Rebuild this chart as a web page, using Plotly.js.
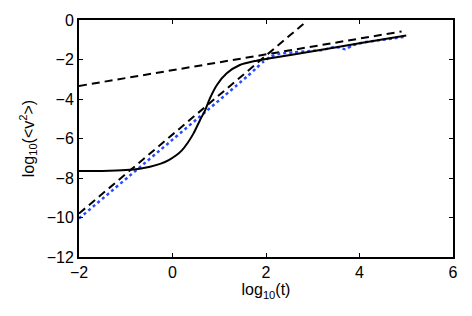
<!DOCTYPE html>
<html>
<head>
<meta charset="utf-8">
<script src="https://cdn.plot.ly/plotly-3.0.1.min.js"></script>
<style>html,body{margin:0;padding:0;background:#fff;}#chart{width:472px;height:316px;}</style>
</head>
<body>
<div id="chart"></div>
<script>
// Solid curve (measured)
var solidX = [-2, -1.5, -1.0, -0.7, -0.48, -0.25, -0.08, 0.08, 0.2, 0.33, 0.45, 0.59, 0.70, 0.80, 0.95, 1.16, 1.44, 1.8, 2.09, 3.0, 4.0, 5.0];
var solidY = [-7.65, -7.64, -7.60, -7.53, -7.43, -7.27, -7.09, -6.85, -6.6, -6.2, -5.74, -5.06, -4.56, -3.97, -3.29, -2.70, -2.28, -2.06, -1.94, -1.58, -1.18, -0.78];
// Blue dotted data
var blueX = [-2, 1.6, 1.8, 1.95, 2.1, 2.3, 2.6, 2.9, 3.2, 3.5, 3.7, 3.85, 4.1, 4.4, 4.7, 5.0];
var blueY = [-10.05, -2.85, -2.42, -2.1, -1.86, -1.70, -1.64, -1.58, -1.52, -1.36, -1.48, -1.28, -1.13, -1.03, -0.94, -0.84];
// Dashed guide lines
var shallowX = [-2, 4.9];
var shallowY = [-3.34, -0.58];
var steepX = [-2, 2.8];
var steepY = [-9.8, -0.2];
// Ticks
var xTicks = [-2, 0, 2, 4, 6];
var yTicks = [-12, -10, -8, -6, -4, -2, 0];

var traces = [
  {x: shallowX, y: shallowY, mode: 'lines', line: {color: '#000', width: 2, dash: '8px,5px'}, hoverinfo: 'none'},
  {x: steepX, y: steepY, mode: 'lines', line: {color: '#000', width: 2, dash: '8px,5px'}, hoverinfo: 'none'},
  {x: blueX, y: blueY, mode: 'lines', line: {color: 'rgb(40,75,255)', width: 2.5, dash: 'dot', shape: 'spline', smoothing: 0.6}, hoverinfo: 'none'},
  {x: solidX, y: solidY, mode: 'lines', line: {color: '#000', width: 2, shape: 'spline', smoothing: 0.8}, hoverinfo: 'none'}
];

var fnt = {family: 'Liberation Sans, Arial, sans-serif', size: 16, color: '#000'};
var axisCommon = {
  showgrid: false, zeroline: false,
  showline: true, linecolor: '#000', linewidth: 2, mirror: 'ticks',
  ticks: 'inside', ticklen: 4, tickwidth: 1, tickcolor: '#000',
  tickfont: fnt
};

var layout = {
  width: 472, height: 316,
  margin: {l: 79, r: 19, t: 20, b: 59},
  paper_bgcolor: '#fff', plot_bgcolor: '#fff',
  showlegend: false,
  xaxis: Object.assign({}, axisCommon, {
    range: [-2, 6], tickvals: xTicks,
    title: {text: 'log<sub>10</sub>(t)', standoff: 3, font: fnt}
  }),
  yaxis: Object.assign({}, axisCommon, {
    range: [-12, 0], tickvals: yTicks,
    title: {text: 'log<sub>10</sub>(&lt;v<sup>2</sup>&gt;)', standoff: 8, font: fnt}
  })
};

Plotly.newPlot('chart', traces, layout, {displayModeBar: false, staticPlot: true});
</script>
</body>
</html>
